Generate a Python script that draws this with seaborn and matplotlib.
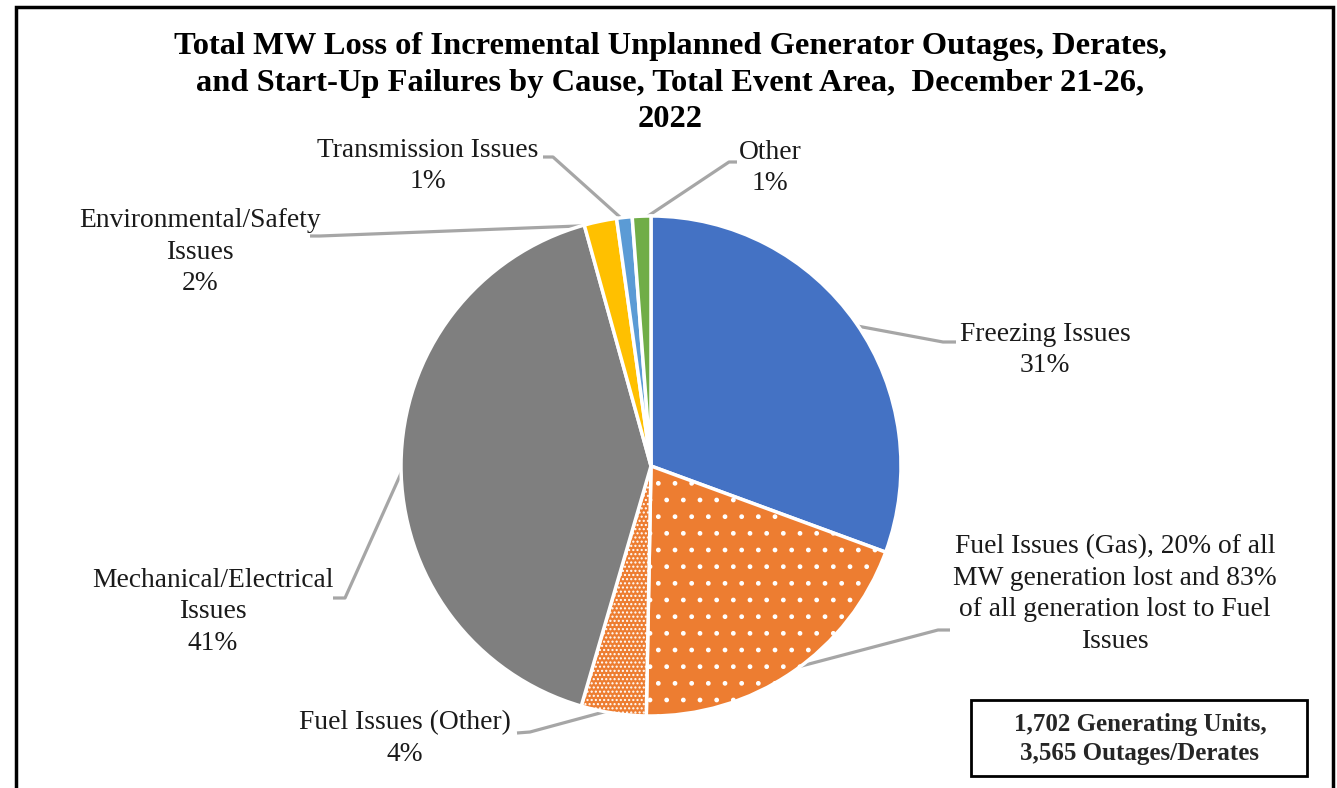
import numpy as np
import seaborn as sns
import matplotlib.pyplot as plt
from matplotlib.patches import Rectangle

# === Data ===
causes = ["Freezing Issues", "Fuel Issues (Gas)", "Fuel Issues (Other)",
          "Mechanical/Electrical Issues", "Environmental/Safety Issues",
          "Transmission Issues", "Other"]
shares = [30.6, 19.7, 4.2, 41.2, 2.1, 1.0, 1.2]
colors = ["#4472C4", "#ED7D31", "#ED7D31", "#7F7F7F", "#FFC000", "#5B9BD5", "#70AD47"]
hatches = [None, ".", "....", None, None, None, None]

label_text = [
    "Freezing Issues\n{}%",
    "Fuel Issues (Gas), 20% of all\nMW generation lost and 83%\nof all generation lost to Fuel\nIssues",
    "Fuel Issues (Other)\n{}%",
    "Mechanical/Electrical\nIssues\n{}%",
    "Environmental/Safety\nIssues\n{}%",
    "Transmission Issues\n{}%",
    "Other\n{}%",
]
title = ("Total MW Loss of Incremental Unplanned Generator Outages, Derates,\n"
         "and Start-Up Failures by Cause, Total Event Area,  December 21-26,\n2022")
note = "1,702 Generating Units,\n3,565 Outages/Derates"

# === Style ===
sns.set_theme(style="white")
plt.rcParams["font.family"] = ["Liberation Serif", "DejaVu Serif"]
plt.rcParams["hatch.color"] = "white"

W, H = 1337, 788
fig = plt.figure(figsize=(W / 100, H / 100), dpi=100)
ax = fig.add_axes([0, 0, 1, 1])


def Y(py):
    # pixel row (from top) -> data y
    return H - py


cx, cy, R = 651, 466, 250
wedges, _ = ax.pie(shares, colors=colors, startangle=90, counterclock=False,
                   center=(cx, Y(cy)), radius=R,
                   wedgeprops=dict(edgecolor="white", linewidth=2.5))
for w, h in zip(wedges, hatches):
    if h:
        w.set_hatch(h)

ax.set_xlim(0, W)
ax.set_ylim(0, H)
ax.set_aspect("equal")
ax.axis("off")

# === Labels: (text centre x, text centre y, elbow, end of leader) in pixels ===
layout = [
    (1045, 350, (943, 342), (956, 342)),
    (1115, 594, (938, 630), (950, 630)),
    (405, 739, (530, 732), (517, 733)),
    (213, 612, (345, 598), (333, 598)),
    (200, 252, (320, 236), (310, 236)),
    (428, 166, (553, 157), (543, 157)),
    (770, 168, (729, 162), (737, 162)),
]

for w, v, txt, (tx, ty, elbow, end) in zip(wedges, shares, label_text, layout):
    ang = np.deg2rad((w.theta1 + w.theta2) / 2)
    sx = cx + (R - 4) * np.cos(ang)
    sy = Y(cy) + (R - 4) * np.sin(ang)
    ax.plot([sx, elbow[0], end[0]], [sy, Y(elbow[1]), Y(end[1])],
            color="#A6A6A6", lw=2.3, solid_capstyle="butt", zorder=0.5)
    s = txt.format(round(v)) if "{}" in txt else txt
    ax.text(tx, Y(ty), s, ha="center", va="center", fontsize=19.8,
            linespacing=1.36, color="#1a1a1a")

ax.text(670, Y(83), title, ha="center", va="center", fontsize=23.4,
        fontweight="bold", linespacing=1.34, color="black")

# note box
ax.add_patch(Rectangle((971, Y(776)), 336, 76, fill=False, edgecolor="black", lw=2))
ax.text(1140, Y(739), note, ha="center", va="center", fontsize=18,
        fontweight="bold", linespacing=1.32)

# outer frame
ax.add_patch(Rectangle((16, Y(800)), 1317, 793, fill=False, edgecolor="black",
                       lw=2.5, clip_on=False))

fig.savefig("out.png", dpi=100, facecolor="white")
